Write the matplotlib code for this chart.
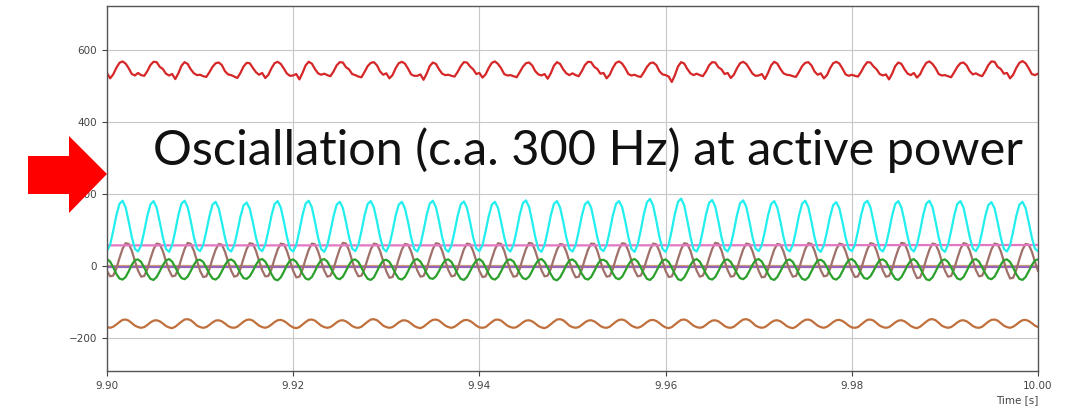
import numpy as np
import matplotlib
matplotlib.use("Agg")
import matplotlib.pyplot as plt
from matplotlib.patches import Polygon

# 采样: 9.90 s .. 10.00 s, 3000 Hz (每个300 Hz周期10个点)
t = 9.90 + np.arange(301) / 3000.0

cyan_vals = [
    42, 58, 97, 140, 172, 181, 163, 123, 80, 47,
    40, 57, 96, 139, 171, 180, 162, 122, 79, 47,
    39, 58, 97, 141, 173, 181, 163, 124, 80, 48,
    41, 58, 96, 138, 170, 178, 160, 121, 79, 47,
    40, 57, 95, 137, 168, 176, 159, 121, 79, 48,
    41, 59, 97, 140, 172, 180, 162, 123, 80, 47,
    40, 58, 98, 141, 173, 181, 163, 123, 79, 47,
    39, 57, 96, 138, 170, 178, 161, 122, 80, 48,
    41, 58, 97, 140, 172, 180, 162, 123, 80, 48,
    40, 58, 96, 139, 170, 178, 160, 122, 79, 47,
    40, 59, 98, 141, 173, 181, 163, 124, 80, 47,
    39, 57, 96, 139, 171, 179, 161, 122, 79, 48,
    41, 58, 96, 138, 170, 178, 161, 122, 80, 48,
    40, 59, 98, 142, 174, 182, 164, 124, 80, 47,
    39, 58, 97, 140, 172, 180, 162, 123, 79, 47,
    40, 57, 96, 139, 171, 179, 162, 122, 79, 48,
    41, 58, 97, 140, 172, 180, 163, 124, 80, 47,
    39, 59, 99, 144, 177, 186, 167, 126, 81, 47,
    39, 59, 100, 145, 178, 187, 168, 126, 81, 46,
    40, 58, 98, 142, 175, 183, 165, 124, 80, 47,
    40, 58, 97, 141, 174, 182, 164, 124, 80, 48,
    41, 58, 97, 140, 172, 180, 162, 123, 80, 47,
    40, 58, 97, 141, 173, 181, 163, 123, 79, 47,
    39, 57, 95, 137, 169, 177, 160, 121, 79, 48,
    41, 58, 97, 141, 173, 181, 163, 123, 80, 47,
    40, 58, 97, 140, 172, 180, 162, 123, 80, 48,
    40, 58, 97, 141, 173, 181, 163, 123, 79, 47,
    39, 58, 97, 140, 172, 180, 162, 122, 80, 48,
    41, 57, 95, 138, 169, 177, 160, 121, 79, 47,
    40, 57, 96, 139, 170, 178, 161, 122, 79, 48,
    41,
]

green_vals = [
    19, 12, -4, -22, -35, -38, -31, -15, 3, 16,
    18, 11, -5, -23, -36, -39, -31, -15, 2, 15,
    19, 12, -4, -21, -34, -37, -30, -14, 3, 16,
    17, 11, -5, -22, -35, -38, -31, -15, 2, 15,
    18, 12, -3, -21, -34, -36, -29, -14, 3, 16,
    19, 12, -4, -23, -37, -40, -32, -16, 2, 15,
    18, 11, -4, -22, -35, -38, -31, -15, 3, 16,
    19, 12, -4, -21, -34, -37, -30, -14, 3, 16,
    18, 11, -5, -23, -36, -39, -32, -15, 2, 15,
    17, 11, -4, -22, -35, -38, -31, -15, 3, 16,
    19, 12, -3, -21, -34, -36, -29, -14, 3, 16,
    18, 11, -5, -23, -36, -39, -31, -15, 2, 15,
    19, 12, -4, -22, -35, -38, -31, -15, 3, 16,
    18, 12, -4, -21, -34, -37, -30, -14, 3, 16,
    19, 11, -5, -23, -37, -40, -32, -16, 2, 15,
    18, 11, -4, -22, -35, -38, -31, -15, 3, 16,
    17, 12, -3, -21, -34, -37, -30, -14, 3, 16,
    19, 12, -4, -22, -36, -39, -31, -15, 2, 15,
    18, 11, -5, -23, -37, -40, -32, -16, 2, 15,
    19, 12, -4, -22, -35, -38, -31, -15, 3, 16,
    18, 11, -4, -21, -34, -37, -30, -14, 3, 16,
    19, 12, -4, -22, -36, -39, -31, -15, 2, 15,
    18, 11, -5, -23, -36, -39, -32, -15, 2, 15,
    17, 11, -4, -22, -35, -38, -31, -15, 3, 16,
    19, 12, -3, -21, -34, -36, -29, -14, 3, 16,
    18, 12, -4, -22, -36, -39, -31, -15, 2, 15,
    19, 11, -5, -23, -37, -40, -32, -16, 2, 15,
    18, 11, -4, -22, -35, -38, -31, -15, 3, 16,
    19, 12, -4, -21, -34, -37, -30, -14, 3, 16,
    18, 11, -5, -23, -36, -39, -31, -15, 2, 15,
    18,
]

mauve_vals = [
    -14, -29, -27, -8, 21, 47, 63, 61, 42, 13,
    -13, -30, -28, -9, 20, 46, 62, 60, 41, 13,
    -12, -29, -27, -8, 21, 47, 64, 61, 42, 14,
    -14, -31, -29, -9, 20, 45, 61, 59, 40, 12,
    -13, -30, -27, -8, 21, 47, 63, 61, 42, 14,
    -12, -29, -28, -9, 20, 46, 62, 60, 41, 13,
    -14, -32, -30, -10, 19, 45, 62, 60, 41, 13,
    -13, -30, -27, -8, 21, 47, 64, 62, 43, 14,
    -12, -29, -27, -8, 20, 46, 62, 60, 41, 13,
    -15, -33, -31, -10, 19, 45, 61, 59, 40, 12,
    -13, -30, -28, -9, 21, 47, 63, 61, 42, 14,
    -12, -29, -27, -8, 20, 46, 62, 60, 41, 13,
    -14, -31, -29, -9, 20, 46, 63, 61, 42, 13,
    -13, -30, -28, -8, 21, 47, 64, 62, 42, 14,
    -12, -29, -27, -8, 20, 45, 61, 59, 40, 12,
    -14, -32, -30, -10, 19, 45, 62, 61, 42, 13,
    -13, -30, -28, -9, 21, 47, 63, 61, 42, 14,
    -12, -29, -27, -8, 20, 46, 62, 60, 41, 13,
    -14, -31, -29, -9, 20, 46, 63, 61, 42, 13,
    -13, -30, -27, -8, 21, 47, 64, 62, 43, 14,
    -12, -30, -28, -9, 20, 46, 62, 60, 41, 13,
    -14, -32, -30, -10, 19, 45, 61, 59, 40, 12,
    -13, -30, -28, -8, 21, 47, 63, 61, 42, 14,
    -12, -29, -27, -8, 20, 46, 62, 60, 41, 13,
    -14, -31, -29, -9, 20, 46, 63, 61, 42, 13,
    -13, -30, -28, -9, 21, 47, 64, 62, 42, 14,
    -15, -34, -32, -11, 19, 45, 62, 60, 41, 13,
    -13, -30, -28, -8, 21, 47, 63, 61, 42, 14,
    -12, -29, -27, -8, 20, 46, 62, 60, 41, 13,
    -15, -35, -33, -11, 19, 45, 61, 59, 40, 12,
    -14,
]

bottom_vals = [
    -170, -172, -169, -163, -156, -150, -149, -152, -159, -166,
    -170, -172, -170, -164, -157, -152, -151, -154, -160, -167,
    -171, -173, -169, -162, -155, -149, -148, -151, -158, -166,
    -170, -172, -170, -164, -157, -152, -151, -154, -160, -167,
    -171, -172, -169, -162, -155, -150, -149, -152, -159, -166,
    -170, -172, -169, -163, -156, -151, -150, -153, -159, -166,
    -171, -173, -170, -163, -156, -150, -149, -152, -159, -166,
    -170, -172, -170, -164, -157, -152, -151, -154, -160, -167,
    -171, -172, -169, -162, -155, -149, -148, -151, -158, -166,
    -170, -172, -170, -164, -157, -152, -151, -154, -160, -167,
    -171, -173, -169, -162, -155, -150, -149, -152, -159, -166,
    -170, -172, -169, -163, -156, -151, -150, -153, -159, -166,
    -171, -172, -170, -163, -156, -150, -149, -152, -159, -166,
    -170, -172, -170, -164, -157, -152, -151, -154, -160, -167,
    -171, -173, -169, -162, -155, -149, -148, -151, -158, -166,
    -170, -172, -170, -164, -157, -152, -151, -154, -160, -167,
    -171, -172, -169, -162, -155, -150, -149, -152, -159, -166,
    -170, -172, -169, -163, -156, -151, -150, -153, -159, -166,
    -171, -173, -170, -163, -156, -150, -149, -152, -159, -166,
    -170, -172, -170, -164, -157, -152, -151, -154, -160, -167,
    -171, -172, -169, -162, -155, -149, -148, -151, -158, -166,
    -170, -172, -170, -164, -157, -152, -151, -154, -160, -167,
    -171, -173, -169, -162, -155, -150, -149, -152, -159, -166,
    -170, -172, -169, -163, -156, -151, -150, -153, -159, -166,
    -171, -172, -170, -163, -156, -150, -149, -152, -159, -166,
    -170, -172, -170, -164, -157, -152, -151, -154, -160, -167,
    -171, -173, -169, -162, -155, -149, -148, -151, -158, -166,
    -170, -172, -170, -164, -157, -152, -151, -154, -160, -167,
    -171, -172, -169, -162, -155, -150, -149, -152, -159, -166,
    -170, -172, -169, -163, -156, -151, -150, -153, -159, -166,
    -170,
]

red_vals = [
    536, 521, 532, 550, 564, 568, 562, 549, 533, 529,
    536, 530, 528, 541, 558, 567, 566, 553, 547, 534,
    529, 533, 519, 535, 556, 566, 561, 546, 535, 530,
    531, 527, 525, 538, 553, 563, 565, 558, 541, 532,
    530, 526, 522, 536, 554, 564, 563, 550, 538, 531,
    536, 522, 531, 549, 563, 567, 561, 548, 534, 528,
    529, 533, 518, 536, 557, 567, 562, 547, 535, 531,
    534, 530, 527, 540, 557, 566, 565, 552, 546, 533,
    530, 526, 524, 539, 555, 564, 566, 557, 540, 531,
    535, 521, 530, 549, 563, 567, 562, 548, 532, 528,
    528, 532, 517, 534, 555, 565, 561, 546, 534, 530,
    531, 528, 526, 539, 555, 566, 565, 554, 546, 533,
    536, 523, 532, 550, 564, 568, 561, 549, 533, 529,
    530, 527, 524, 538, 553, 563, 565, 557, 541, 532,
    529, 533, 520, 535, 556, 566, 561, 546, 535, 530,
    535, 530, 527, 541, 558, 567, 566, 553, 547, 534,
    536, 521, 531, 550, 564, 568, 562, 549, 533, 529,
    531, 527, 525, 538, 553, 563, 565, 558, 541, 532,
    530, 526, 511, 530, 554, 566, 562, 547, 535, 530,
    534, 530, 527, 540, 557, 566, 565, 552, 546, 533,
    536, 522, 531, 549, 563, 567, 561, 548, 534, 528,
    529, 533, 519, 536, 557, 567, 562, 547, 535, 531,
    530, 527, 525, 539, 555, 564, 566, 557, 540, 531,
    535, 521, 530, 549, 563, 567, 562, 548, 532, 528,
    531, 528, 526, 539, 555, 566, 565, 554, 546, 533,
    529, 532, 518, 534, 555, 565, 561, 546, 534, 530,
    536, 523, 532, 550, 564, 568, 561, 549, 533, 529,
    530, 527, 524, 538, 553, 563, 565, 557, 541, 532,
    535, 530, 527, 541, 558, 568, 567, 553, 547, 534,
    536, 521, 531, 550, 564, 569, 563, 549, 533, 530,
    534,
]

# 近似恒定的曲线
flat_t = [9.90, 9.95, 10.00]
pink_vals = [57, 57, 58]
orange_vals = [1, 1, 1]
purple_vals = [-2, -2, -2]

x_ticks = [9.90, 9.92, 9.94, 9.96, 9.98, 10.00]
y_ticks = [-200, 0, 200, 400, 600]
note_text = "Osciallation (c.a. 300 Hz) at active power"

W, H = 1069, 408
fig = plt.figure(figsize=(W / 100, H / 100), dpi=100)
ax = fig.add_axes([107 / W, (H - 371) / H, (1038 - 107) / W, (371 - 6) / H])

lw = 1.6
ax.plot(t, red_vals, color="#d62728", lw=lw)
ax.plot(flat_t, orange_vals, color="#d9a070", lw=lw)
ax.plot(flat_t, purple_vals, color="#9467bd", lw=lw)
ax.plot(t, bottom_vals, color="#c0703c", lw=lw)
ax.plot(t, mauve_vals, color="#a0706a", lw=lw)
ax.plot(t, green_vals, color="#2ca02c", lw=lw)
ax.plot(flat_t, pink_vals, color="#e377c2", lw=lw)
ax.plot(t, cyan_vals, color="#22eeee", lw=lw)

ax.set_xlim(9.90, 10.00)
ax.set_ylim(-292, 722)
ax.set_xticks(x_ticks)
ax.set_xticklabels([f"{v:.2f}" for v in x_ticks])
ax.set_yticks(y_ticks)
ax.set_yticklabels(["\u2212200", "0", "200", "400", "600"])
ax.grid(True, color="#c8c8c8", lw=0.8)
ax.tick_params(labelsize=7.5, colors="#444444", length=3.5, width=0.8)
for s in ax.spines.values():
    s.set_color("#555555")
    s.set_linewidth(1.0)
ax.set_xlabel("Time [s]", fontsize=7.5, color="#444444", loc="right", labelpad=3)

# 标注文字和红色箭头
fig.text(153 / W, (H - 165) / H, note_text, fontsize=35.0, family=["Lato", "DejaVu Sans"],
         color="#111111", ha="left", va="baseline")

arrow_px = [(28, 156), (69, 156), (69, 136), (107, 174), (69, 213), (69, 194), (28, 194)]
arrow = Polygon([(x / W, (H - y) / H) for x, y in arrow_px], closed=True,
                facecolor="#ff0000", edgecolor="none", transform=fig.transFigure)
fig.patches.append(arrow)

fig.savefig("out.png", dpi=100)
